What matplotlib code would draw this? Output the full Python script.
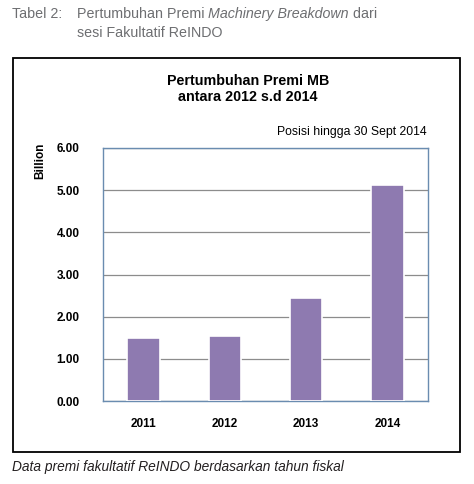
import matplotlib.pyplot as plt
from matplotlib.patches import Rectangle

# data
years = ['2011', '2012', '2013', '2014']
premi = [1.50, 1.55, 2.45, 5.13]
yticks = [0, 1, 2, 3, 4, 5, 6]

W, H = 474, 484
plt.rcParams['font.family'] = ['Liberation Sans', 'DejaVu Sans']

fig = plt.figure(figsize=(W / 100, H / 100), dpi=100)

def px(x, y):
    # pixel position (from top-left) -> figure fraction
    return x / W, 1 - y / H

# outer frame round the chart
fig.patches.append(Rectangle(px(13, 452), (460 - 13) / W, (452 - 58) / H,
                             transform=fig.transFigure, fill=False,
                             edgecolor='black', linewidth=1.3))

# header above the frame, pieces chained one after another
grey = '#6d6e71'
fig.text(*px(12, 14), 'Tabel 2:', color=grey, fontsize=10.3, va='center')
renderer = fig.canvas.get_renderer()
x = 77
for part, st in [('Pertumbuhan Premi ', 'normal'), ('Machinery Breakdown', 'italic'),
                 (' dari', 'normal')]:
    t = fig.text(*px(x, 14), part, color=grey, fontsize=10.3, va='center', style=st)
    x += t.get_window_extent(renderer).width
fig.text(*px(77, 33), 'sesi Fakultatif ReINDO', color=grey, fontsize=10.3, va='center')

# chart title and note
fig.text(*px(248, 89), 'Pertumbuhan Premi MB\nantara 2012 s.d 2014', ha='center',
         va='center', fontsize=10.3, fontweight='bold', linespacing=1.2)
fig.text(*px(427, 132), 'Posisi hingga 30 Sept 2014', ha='right', va='center',
         fontsize=8.8)

# caption below the frame
fig.text(*px(12, 467), 'Data premi fakultatif ReINDO berdasarkan tahun fiskal',
         fontsize=9.9, style='italic', va='center', color='#231f20')

ax = fig.add_axes([103 / W, (H - 401) / H, 325 / W, 253 / H])
ax.bar(range(len(years)), premi, width=0.4, color='#8e7ab0',
       edgecolor='white', linewidth=1.2, zorder=3)
ax.set_xlim(-0.5, len(years) - 0.5)
ax.set_ylim(0, 6)
ax.set_yticks(yticks)
ax.set_yticklabels(['%.2f' % v for v in yticks], fontsize=8.5, fontweight='bold')
ax.set_xticks(range(len(years)))
ax.set_xticklabels(years, fontsize=8.5, fontweight='bold')
ax.tick_params(length=0)
ax.tick_params(axis='x', pad=12)
ax.tick_params(axis='y', pad=17)
ax.yaxis.grid(True, color='#8c8c8c', linewidth=0.9, zorder=0)
for s in ax.spines.values():
    s.set_color('#6a8cb0')
    s.set_linewidth(1.0)

fig.text(*px(40, 161), 'Billion', rotation=90, ha='center', va='center',
         fontsize=8.5, fontweight='bold')

fig.savefig('out.png', dpi=100)
